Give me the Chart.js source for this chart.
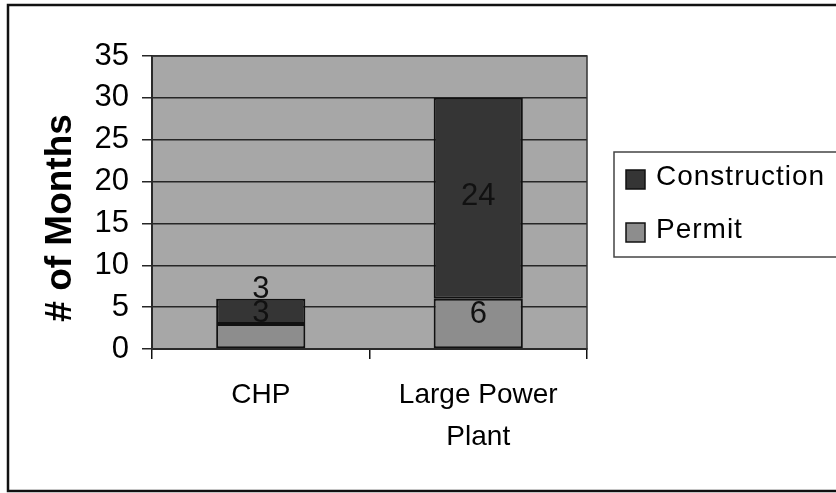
<!DOCTYPE html>
<html>
<head>
<meta charset="utf-8">
<script src="https://cdn.jsdelivr.net/npm/chart.js@4/dist/chart.umd.min.js"></script>
<style>
  html, body { margin: 0; padding: 0; background: #fff; overflow: hidden; }
  #wrap { width: 836px; height: 493px; position: relative; }
</style>
</head>
<body>
<div id="wrap"><canvas id="chart" width="836" height="493"></canvas></div>
<script>
// chart data
var categories = ['CHP', ['Large Power', 'Plant']];
var permitMonths = [3, 6];
var constructionMonths = [3, 24];
var yMin = 0;
var yMax = 35;
var yStep = 5;

var FONT = '"Liberation Sans", Arial, sans-serif';
// the scanned numbers look squeezed, so use the narrow cut for them
var NARROW = '"Liberation Sans Narrow", "Arial Narrow", "Liberation Sans", sans-serif';

// gray plot area + outer frame, drawn before scales
var frame = {
    id: 'frame',
    beforeDraw: function(chart) {
        var ctx = chart.ctx, a = chart.chartArea;
        ctx.save();
        ctx.fillStyle = '#fff';
        ctx.fillRect(0, 0, chart.width, chart.height);
        ctx.strokeStyle = '#111';
        ctx.lineWidth = 2.5;
        ctx.strokeRect(8, 5, 900, 486);
        ctx.fillStyle = '#a7a7a7';
        ctx.fillRect(a.left, a.top, a.right - a.left, a.bottom - a.top);
        ctx.restore();
    },
    afterDraw: function(chart) {
        var ctx = chart.ctx, a = chart.chartArea;
        ctx.save();
        ctx.strokeStyle = '#333';
        ctx.lineWidth = 1.5;
        ctx.strokeRect(a.left, a.top, a.right - a.left, a.bottom - a.top);
        ctx.restore();
    }
};

// value labels in the middle of each segment (Excel nudged some of them up)
var segLabels = {
    id: 'segLabels',
    afterDatasetsDraw: function(chart, args, opts) {
        var ctx = chart.ctx;
        ctx.save();
        ctx.font = '31px ' + NARROW;
        ctx.textAlign = 'center';
        ctx.textBaseline = 'middle';
        chart.data.datasets.forEach(function(ds, di) {
            var meta = chart.getDatasetMeta(di);
            var shift = opts.shift[ds.label] || [];
            meta.data.forEach(function(bar, i) {
                var p = bar.getProps(['x', 'y', 'base'], true);
                ctx.fillStyle = '#111';
                ctx.fillText(String(ds.data[i]), p.x, (p.y + p.base) / 2 + (shift[i] || 0));
            });
        });
        ctx.restore();
    }
};

// Excel style boxed legend on the right
var boxLegend = {
    id: 'boxLegend',
    afterDraw: function(chart, args, opts) {
        var ctx = chart.ctx;
        ctx.save();
        ctx.strokeStyle = '#444';
        ctx.lineWidth = 1.5;
        ctx.strokeRect(opts.x, opts.y, 400, opts.h);
        ctx.font = '28px ' + FONT;
        if ('letterSpacing' in ctx) ctx.letterSpacing = '1px';
        ctx.textBaseline = 'middle';
        ctx.textAlign = 'left';
        var items = chart.data.datasets.slice().reverse();
        items.forEach(function(ds, i) {
            var cy = opts.y + opts.firstRow + i * opts.rowGap;
            ctx.fillStyle = ds.backgroundColor;
            ctx.fillRect(opts.x + 12, cy - 7, 19, 19);
            ctx.strokeStyle = '#111';
            ctx.lineWidth = 1.5;
            ctx.strokeRect(opts.x + 12, cy - 7, 19, 19);
            ctx.fillStyle = '#000';
            ctx.fillText(ds.label, opts.x + 42, cy);
        });
        ctx.restore();
    }
};

var ctx = document.getElementById('chart');
var myChart = new Chart(ctx, {
    type: 'bar',
    data: {
        labels: categories,
        datasets: [
            {
                label: 'Permit',
                data: permitMonths,
                backgroundColor: '#8d8d8d',
                borderColor: '#111',
                borderWidth: 2,
                borderSkipped: false
            },
            {
                label: 'Construction',
                data: constructionMonths,
                backgroundColor: '#353535',
                borderColor: '#111',
                borderWidth: 2,
                borderSkipped: false
            }
        ]
    },
    options: {
        responsive: false,
        animation: false,
        devicePixelRatio: 1,
        layout: { padding: { left: 10, top: 56, right: 249, bottom: 10 } },
        datasets: { bar: { categoryPercentage: 1, barPercentage: 0.41 } },
        plugins: {
            legend: { display: false },
            tooltip: { enabled: false },
            segLabels: { shift: { 'Permit': [-23, -9], 'Construction': [-22, -2] } },
            boxLegend: { x: 614, y: 152, h: 105, firstRow: 25, rowGap: 53 }
        },
        scales: {
            x: {
                stacked: true,
                afterFit: function(scale) { scale.height = 493 - 10 - 349; },
                grid: { drawOnChartArea: false, drawTicks: true, tickLength: 10, color: '#111', lineWidth: 1.5 },
                border: { display: true, color: '#111', width: 2 },
                ticks: { color: '#000', padding: 15, font: { family: FONT, size: 28, lineHeight: 1.5 }, maxRotation: 0 }
            },
            y: {
                stacked: true,
                min: yMin,
                max: yMax,
                afterFit: function(scale) { scale.width = 152 - 10; },
                grid: { color: '#262626', lineWidth: 1.5, drawTicks: true, tickLength: 10 },
                border: { display: true, color: '#111', width: 2 },
                ticks: { stepSize: yStep, color: '#000', padding: 13, font: { family: NARROW, size: 31 } },
                title: {
                    display: true,
                    text: '# of Months   ',
                    color: '#000',
                    padding: { top: 29, bottom: 0 },
                    font: { family: FONT, size: 37, weight: 'bold', lineHeight: 1.2 }
                }
            }
        }
    },
    plugins: [frame, segLabels, boxLegend]
});
</script>
</body>
</html>
